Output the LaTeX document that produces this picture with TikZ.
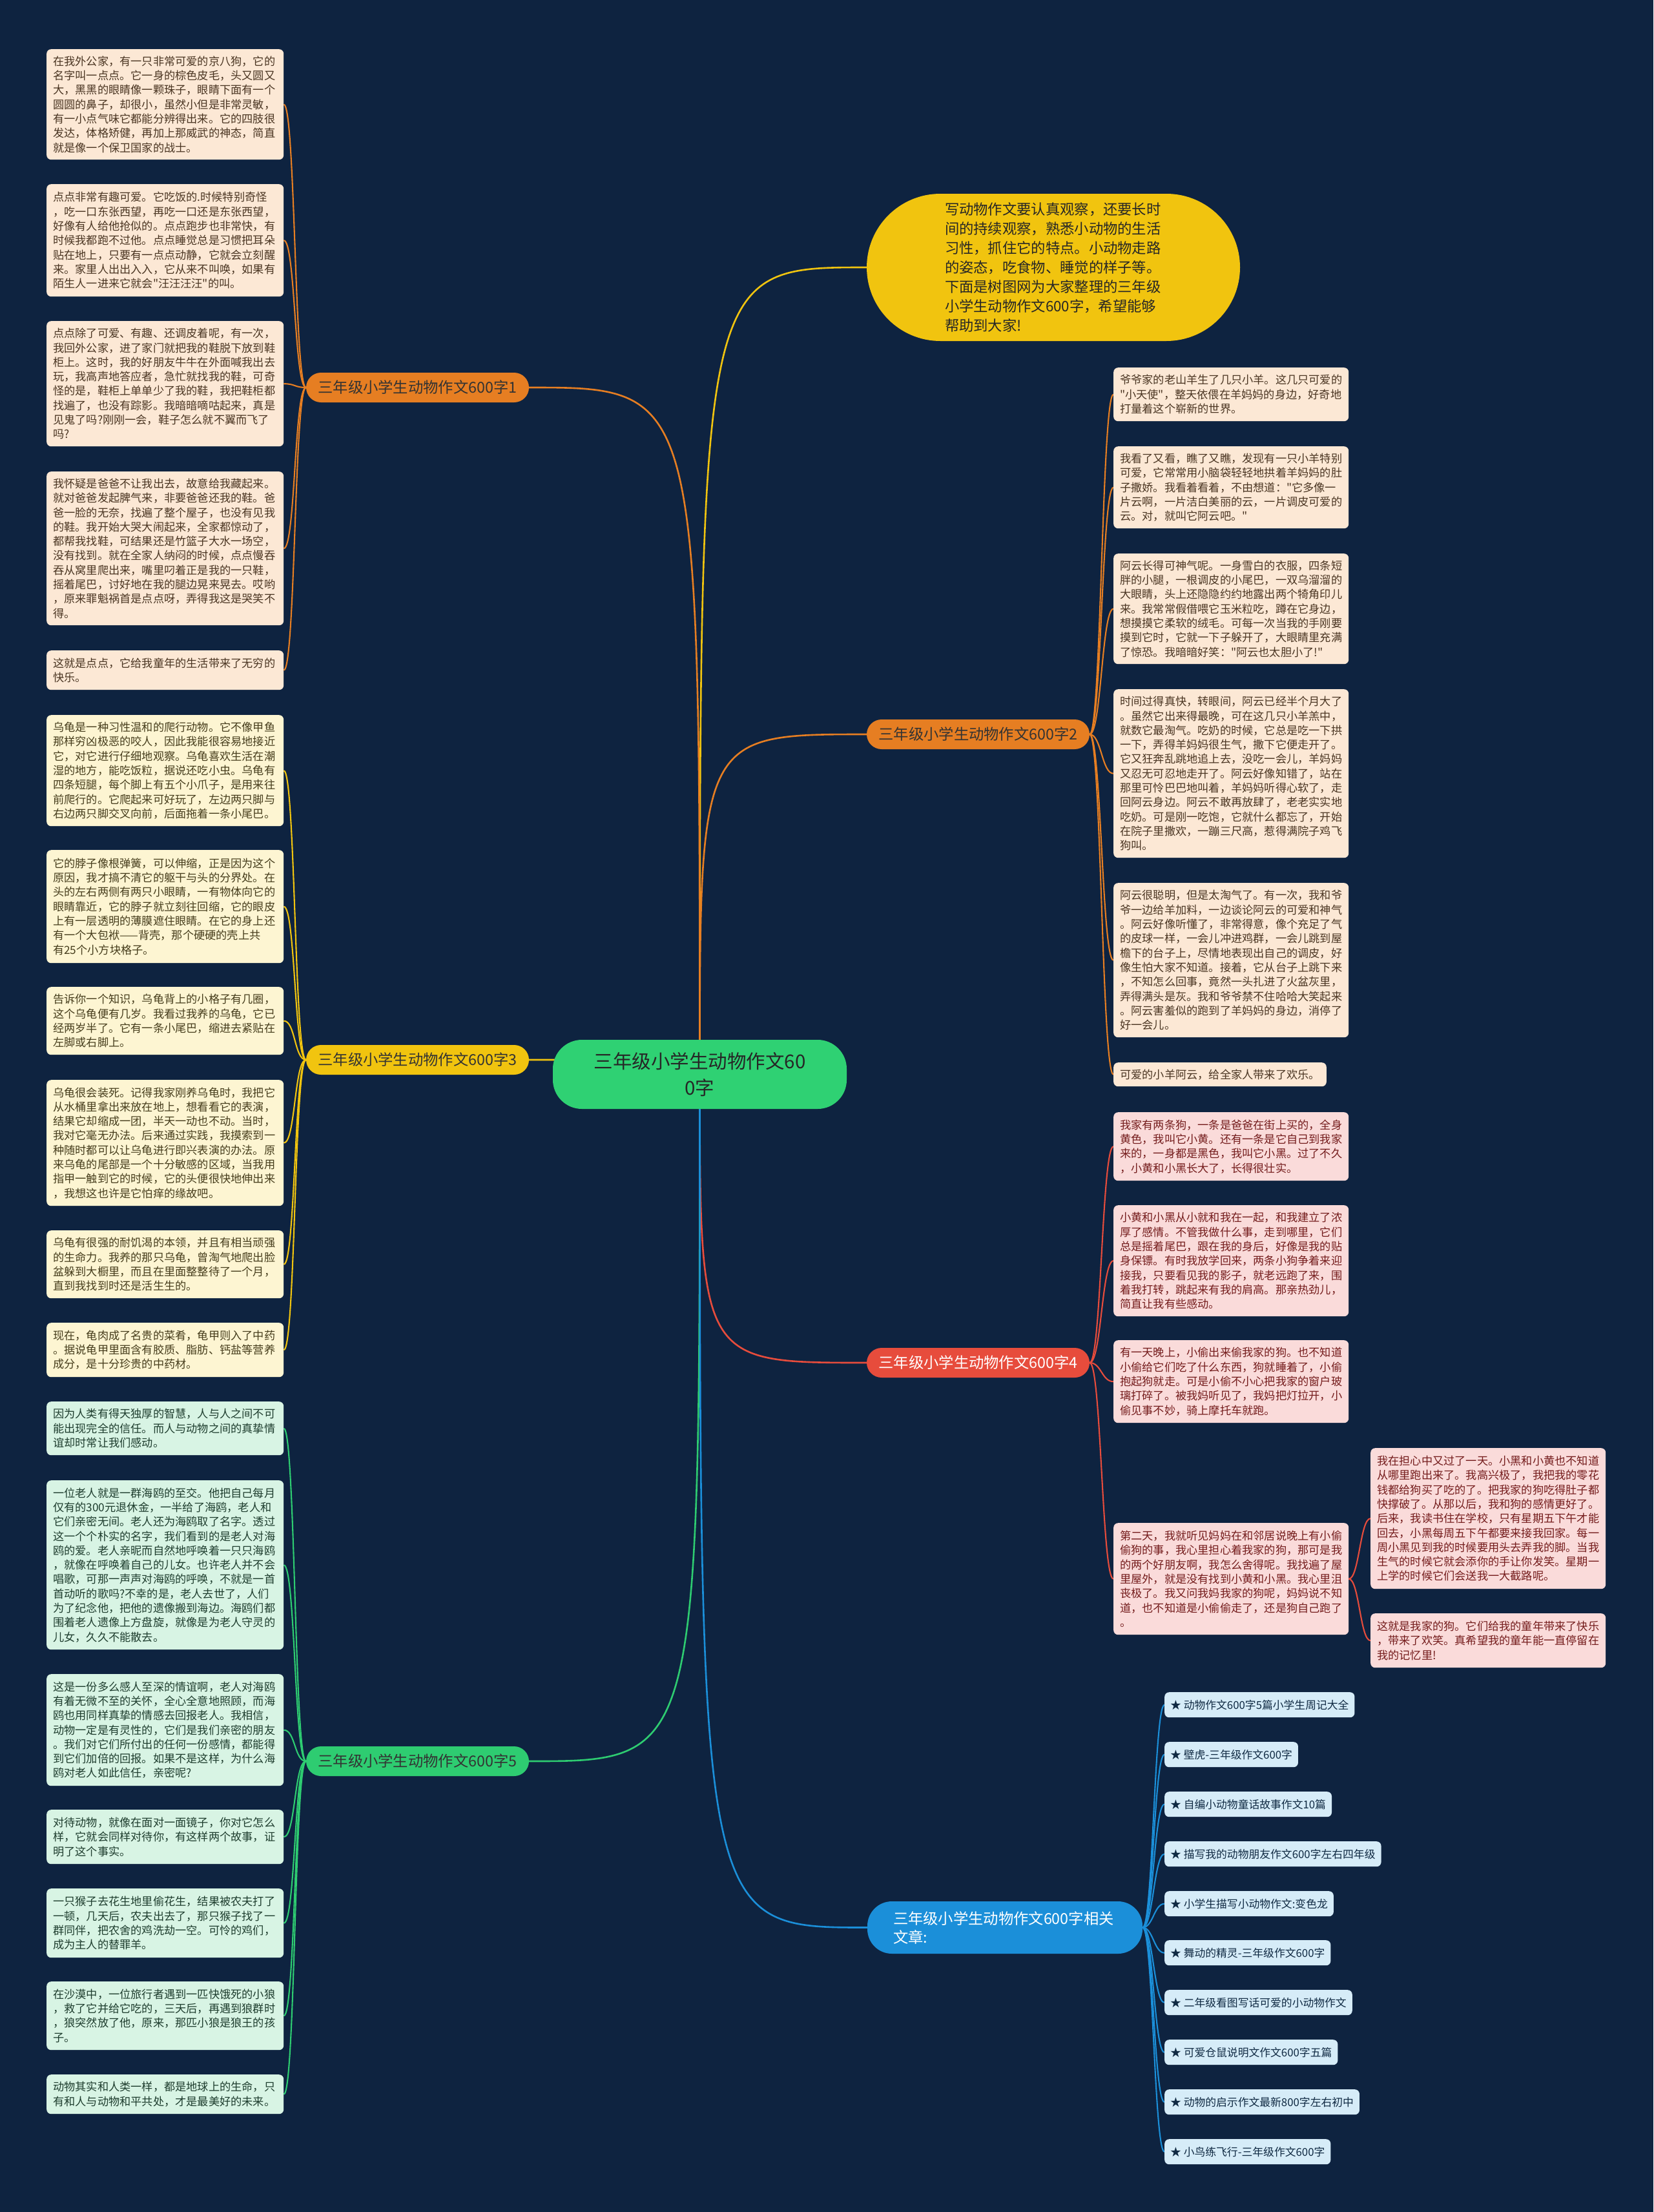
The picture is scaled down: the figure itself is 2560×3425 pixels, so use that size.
\documentclass[tikz,border=0pt]{standalone}
\usepackage{fontspec}
\newfontfamily\cjk{Noto Sans CJK SC}
\usetikzlibrary{calc}
\definecolor{bgc}{HTML}{0E2340}
\definecolor{corange}{HTML}{E67E22}
\definecolor{cyellow}{HTML}{F1C40F}
\definecolor{cred}{HTML}{E74C3C}
\definecolor{cgreen}{HTML}{2ECC71}
\definecolor{croot}{HTML}{2FD173}
\definecolor{cblue}{HTML}{1B8FD9}
\definecolor{fpeach}{HTML}{FCE8D5}
\definecolor{fyellow}{HTML}{FDF5D2}
\definecolor{fgreen}{HTML}{D8F4E4}
\definecolor{fpink}{HTML}{FADBDA}
\definecolor{fblue}{HTML}{D6ECF8}
\definecolor{tbrown}{HTML}{4A3522}
\definecolor{tolive}{HTML}{463D1C}
\definecolor{tgreen}{HTML}{1E3D2E}
\definecolor{tred}{HTML}{741C1C}
\definecolor{tnavy}{HTML}{102A43}
\pgfdeclarelayer{bglayer}
\pgfdeclarelayer{lines}
\pgfsetlayers{bglayer,lines,main}
\tikzset{
  base/.style={font=\cjk\fontsize{17.2}{22.3}\selectfont, align=left, rounded corners=7pt, anchor=north west, inner ysep=0pt, inner xsep=10pt},
  nL/.style={base, text width=347pt},
  nR/.style={base, text width=344pt},
  g1/.style={fill=fpeach, text=tbrown},
  g3/.style={fill=fyellow, text=tolive},
  g5/.style={fill=fgreen, text=tgreen},
  g4/.style={fill=fpink, text=tred},
  lnk/.style={base, fill=fblue, text=tnavy, font=\cjk\fontsize{16.8}{20}\selectfont, inner xsep=9pt, minimum height=39pt},
  pill/.style={font=\cjk\fontsize{23.3}{29}\selectfont, rounded corners=23pt, minimum width=345pt, minimum height=46pt, inner sep=0pt},
  mainln/.style={line width=2.6pt},
  subln/.style={line width=2.1pt}
}
\begin{document}
\begin{tikzpicture}[x=1pt,y=-1pt]
\useasboundingbox (0,0) rectangle (2560,3425);
\begin{pgfonlayer}{bglayer}
\fill[bgc] (0,0) rectangle (2560,3425);
\end{pgfonlayer}

% root and intro
\node[fill=croot, text=black!85, rounded corners=45pt, minimum width=455pt, minimum height=107pt, inner sep=0pt, align=center, font=\cjk\fontsize{29.5}{41}\selectfont] (root) at (1083.5,1663.5) {三年级小学生动物作文60\\0字};
\node[fill=cyellow, text=black!85, rounded corners=114pt, minimum width=578pt, minimum height=228pt, inner sep=0pt, text width=336pt, align=left, font=\cjk\fontsize{22.3}{30}\selectfont] (intro) at (1631,414) {写动物作文要认真观察，还要长时\\间的持续观察，熟悉小动物的生活\\习性，抓住它的特点。小动物走路\\的姿态，吃食物、睡觉的样子等。\\下面是树图网为大家整理的三年级\\小学生动物作文600字，希望能够\\帮助到大家!};

% branches
\node[pill, fill=corange, text=black!80] (b1) at (646.5,600) {三年级小学生动物作文600字1};
\node[pill, fill=corange, text=black!80] (b2) at (1514.5,1137) {三年级小学生动物作文600字2};
\node[pill, fill=cyellow, text=black!80] (b3) at (646.5,1641) {三年级小学生动物作文600字3};
\node[pill, fill=cred, text=white] (b4) at (1514.5,2110) {三年级小学生动物作文600字4};
\node[pill, fill=cgreen, text=black!80] (b5) at (646.5,2727) {三年级小学生动物作文600字5};
\node[pill, fill=cblue, text=white, minimum width=426pt, minimum height=81pt, rounded corners=38pt, text width=346pt, inner xsep=40pt, align=left] (b6) at (1556,2984.5) {三年级小学生动物作文600字相关\\文章:};

% group 1
\node[nL, g1, minimum height=171pt] (n1a) at (72,76) {在我外公家，有一只非常可爱的京八狗，它的\\名字叫一点点。它一身的棕色皮毛，头又圆又\\大，黑黑的眼睛像一颗珠子，眼睛下面有一个\\圆圆的鼻子，却很小，虽然小但是非常灵敏，\\有一小点气味它都能分辨得出来。它的四肢很\\发达，体格矫健，再加上那威武的神态，简直\\就是像一个保卫国家的战士。};
\node[nL, g1, minimum height=174pt] (n1b) at (72,285) {点点非常有趣可爱。它吃饭的.时候特别奇怪\\，吃一口东张西望，再吃一口还是东张西望，\\好像有人给他抢似的。点点跑步也非常快，有\\时候我都跑不过他。点点睡觉总是习惯把耳朵\\贴在地上，只要有一点点动静，它就会立刻醒\\来。家里人出出入入，它从来不叫唤，如果有\\陌生人一进来它就会"汪汪汪汪"的叫。};
\node[nL, g1, minimum height=194pt] (n1c) at (72,497) {点点除了可爱、有趣、还调皮着呢，有一次，\\我回外公家，进了家门就把我的鞋脱下放到鞋\\柜上。这时，我的好朋友牛牛在外面喊我出去\\玩，我高声地答应者，急忙就找我的鞋，可奇\\怪的是，鞋柜上单单少了我的鞋，我把鞋柜都\\找遍了，也没有踪影。我暗暗嘀咕起来，真是\\见鬼了吗?刚刚一会，鞋子怎么就不翼而飞了\\吗?};
\node[nL, g1, minimum height=238pt] (n1d) at (72,730) {我怀疑是爸爸不让我出去，故意给我藏起来。\\就对爸爸发起脾气来，非要爸爸还我的鞋。爸\\爸一脸的无奈，找遍了整个屋子，也没有见我\\的鞋。我开始大哭大闹起来，全家都惊动了，\\都帮我找鞋，可结果还是竹篮子大水一场空，\\没有找到。就在全家人纳闷的时候，点点慢吞\\吞从窝里爬出来，嘴里叼着正是我的一只鞋，\\摇着尾巴，讨好地在我的腿边晃来晃去。哎哟\\，原来罪魁祸首是点点呀，弄得我这是哭笑不\\得。};
\node[nL, g1, minimum height=61pt] (n1e) at (72,1007) {这就是点点，它给我童年的生活带来了无穷的\\快乐。};

% group 3
\node[nL, g3, minimum height=172pt] (n3a) at (72,1107) {乌龟是一种习性温和的爬行动物。它不像甲鱼\\那样穷凶极恶的咬人，因此我能很容易地接近\\它，对它进行仔细地观察。乌龟喜欢生活在潮\\湿的地方，能吃饭粒，据说还吃小虫。乌龟有\\四条短腿，每个脚上有五个小爪子，是用来往\\前爬行的。它爬起来可好玩了，左边两只脚与\\右边两只脚交叉向前，后面拖着一条小尾巴。};
\node[nL, g3, minimum height=175pt] (n3b) at (72,1316) {它的脖子像根弹簧，可以伸缩，正是因为这个\\原因，我才搞不清它的躯干与头的分界处。在\\头的左右两侧有两只小眼睛，一有物体向它的\\眼睛靠近，它的脖子就立刻往回缩，它的眼皮\\上有一层透明的薄膜遮住眼睛。在它的身上还\\有一个大包袱——背壳，那个硬硬的壳上共\\有25个小方块格子。};
\node[nL, g3, minimum height=105pt] (n3c) at (72,1528) {告诉你一个知识，乌龟背上的小格子有几圈，\\这个乌龟便有几岁。我看过我养的乌龟，它已\\经两岁半了。它有一条小尾巴，缩进去紧贴在\\左脚或右脚上。};
\node[nL, g3, minimum height=195pt] (n3d) at (72,1672) {乌龟很会装死。记得我家刚养乌龟时，我把它\\从水桶里拿出来放在地上，想看看它的表演，\\结果它却缩成一团，半天一动也不动。当时，\\我对它毫无办法。后来通过实践，我摸索到一\\种随时都可以让乌龟进行即兴表演的办法。原\\来乌龟的尾部是一个十分敏感的区域，当我用\\指甲一触到它的时候，它的头便很快地伸出来\\，我想这也许是它怕痒的缘故吧。};
\node[nL, g3, minimum height=105pt] (n3e) at (72,1905) {乌龟有很强的耐饥渴的本领，并且有相当顽强\\的生命力。我养的那只乌龟，曾淘气地爬出脸\\盆躲到大橱里，而且在里面整整待了一个月，\\直到我找到时还是活生生的。};
\node[nL, g3, minimum height=84pt] (n3f) at (72,2048) {现在，龟肉成了名贵的菜肴，龟甲则入了中药\\。据说龟甲里面含有胶质、脂肪、钙盐等营养\\成分，是十分珍贵的中药材。};

% group 5
\node[nL, g5, minimum height=83pt] (n5a) at (72,2170) {因为人类有得天独厚的智慧，人与人之间不可\\能出现完全的信任。而人与动物之间的真挚情\\谊却时常让我们感动。};
\node[nL, g5, minimum height=262pt] (n5b) at (72,2292) {一位老人就是一群海鸥的至交。他把自己每月\\仅有的300元退休金，一半给了海鸥，老人和\\它们亲密无间。老人还为海鸥取了名字。透过\\这一个个朴实的名字，我们看到的是老人对海\\鸥的爱。老人亲昵而自然地呼唤着一只只海鸥\\，就像在呼唤着自己的儿女。也许老人并不会\\唱歌，可那一声声对海鸥的呼唤，不就是一首\\首动听的歌吗?不幸的是，老人去世了，人们\\为了纪念他，把他的遗像搬到海边。海鸥们都\\围着老人遗像上方盘旋，就像是为老人守灵的\\儿女，久久不能散去。};
\node[nL, g5, minimum height=173pt] (n5c) at (72,2592) {这是一份多么感人至深的情谊啊，老人对海鸥\\有着无微不至的关怀，全心全意地照顾，而海\\鸥也用同样真挚的情感去回报老人。我相信，\\动物一定是有灵性的，它们是我们亲密的朋友\\。我们对它们所付出的任何一份感情，都能得\\到它们加倍的回报。如果不是这样，为什么海\\鸥对老人如此信任，亲密呢?};
\node[nL, g5, minimum height=84pt] (n5d) at (72,2802) {对待动物，就像在面对一面镜子，你对它怎么\\样，它就会同样对待你，有这样两个故事，证\\明了这个事实。};
\node[nL, g5, minimum height=107pt] (n5e) at (72,2924) {一只猴子去花生地里偷花生，结果被农夫打了\\一顿，几天后，农夫出去了，那只猴子找了一\\群同伴，把农舍的鸡洗劫一空。可怜的鸡们，\\成为主人的替罪羊。};
\node[nL, g5, minimum height=106pt] (n5f) at (72,3068) {在沙漠中，一位旅行者遇到一匹快饿死的小狼\\，救了它并给它吃的，三天后，再遇到狼群时\\，狼突然放了他，原来，那匹小狼是狼王的孩\\子。};
\node[nL, g5, minimum height=61pt] (n5g) at (72,3212) {动物其实和人类一样，都是地球上的生命，只\\有和人与动物和平共处，才是最美好的未来。};

% group 2
\node[nR, g1, minimum height=83pt] (n2a) at (1724,569) {爷爷家的老山羊生了几只小羊。这几只可爱的\\"小天使"，整天依偎在羊妈妈的身边，好奇地\\打量着这个崭新的世界。};
\node[nR, g1, minimum height=127pt] (n2b) at (1724,691) {我看了又看，瞧了又瞧，发现有一只小羊特别\\可爱，它常常用小脑袋轻轻地拱着羊妈妈的肚\\子撒娇。我看着看着，不由想道："它多像一\\片云啊，一片洁白美丽的云，一片调皮可爱的\\云。对，就叫它阿云吧。"};
\node[nR, g1, minimum height=171pt] (n2c) at (1724,857) {阿云长得可神气呢。一身雪白的衣服，四条短\\胖的小腿，一根调皮的小尾巴，一双乌溜溜的\\大眼睛，头上还隐隐约约地露出两个犄角印儿\\来。我常常假借喂它玉米粒吃，蹲在它身边，\\想摸摸它柔软的绒毛。可每一次当我的手刚要\\摸到它时，它就一下子躲开了，大眼睛里充满\\了惊恐。我暗暗好笑："阿云也太胆小了!"};
\node[nR, g1, minimum height=261pt] (n2d) at (1724,1067) {时间过得真快，转眼间，阿云已经半个月大了\\。虽然它出来得最晚，可在这几只小羊羔中，\\就数它最淘气。吃奶的时候，它总是吃一下拱\\一下，弄得羊妈妈很生气，撒下它便走开了。\\它又狂奔乱跳地追上去，没吃一会儿，羊妈妈\\又忍无可忍地走开了。阿云好像知错了，站在\\那里可怜巴巴地叫着，羊妈妈听得心软了，走\\回阿云身边。阿云不敢再放肆了，老老实实地\\吃奶。可是刚一吃饱，它就什么都忘了，开始\\在院子里撒欢，一蹦三尺高，惹得满院子鸡飞\\狗叫。};
\node[nR, g1, minimum height=239pt] (n2e) at (1724,1367) {阿云很聪明，但是太淘气了。有一次，我和爷\\爷一边给羊加料，一边谈论阿云的可爱和神气\\。阿云好像听懂了，非常得意，像个充足了气\\的皮球一样，一会儿冲进鸡群，一会儿跳到屋\\檐下的台子上，尽情地表现出自己的调皮，好\\像生怕大家不知道。接着，它从台子上跳下来\\，不知怎么回事，竟然一头扎进了火盆灰里，\\弄得满头是灰。我和爷爷禁不住哈哈大笑起来\\。阿云害羞似的跑到了羊妈妈的身边，消停了\\好一会儿。};
\node[base, g1, minimum height=37pt] (n2f) at (1724,1645) {可爱的小羊阿云，给全家人带来了欢乐。};

% group 4
\node[nR, g4, minimum height=106pt] (n4a) at (1724,1722) {我家有两条狗，一条是爸爸在街上买的，全身\\黄色，我叫它小黄。还有一条是它自己到我家\\来的，一身都是黑色，我叫它小黑。过了不久\\，小黄和小黑长大了，长得很壮实。};
\node[nR, g4, minimum height=172pt] (n4b) at (1724,1866) {小黄和小黑从小就和我在一起，和我建立了浓\\厚了感情。不管我做什么事，走到哪里，它们\\总是摇着尾巴，跟在我的身后，好像是我的贴\\身保镖。有时我放学回来，两条小狗争着来迎\\接我，只要看见我的影子，就老远跑了来，围\\着我打转，跳起来有我的肩高。那亲热劲儿，\\简直让我有些感动。};
\node[nR, g4, minimum height=128pt] (n4c) at (1724,2075) {有一天晚上，小偷出来偷我家的狗。也不知道\\小偷给它们吃了什么东西，狗就睡着了，小偷\\抱起狗就走。可是小偷不小心把我家的窗户玻\\璃打碎了。被我妈听见了，我妈把灯拉开，小\\偷见事不妙，骑上摩托车就跑。};
\node[nR, g4, minimum height=173pt] (n4d) at (1724,2358) {第二天，我就听见妈妈在和邻居说晚上有小偷\\偷狗的事，我心里担心着我家的狗，那可是我\\的两个好朋友啊，我怎么舍得呢。我找遍了屋\\里屋外，就是没有找到小黄和小黑。我心里沮\\丧极了。我又问我妈我家的狗呢，妈妈说不知\\道，也不知道是小偷偷走了，还是狗自己跑了\\。};
\node[nR, g4, minimum height=218pt] (n4e) at (2122,2242) {我在担心中又过了一天。小黑和小黄也不知道\\从哪里跑出来了。我高兴极了，我把我的零花\\钱都给狗买了吃的了。把我家的狗吃得肚子都\\快撑破了。从那以后，我和狗的感情更好了。\\后来，我读书住在学校，只有星期五下午才能\\回去，小黑每周五下午都要来接我回家。每一\\周小黑见到我的时候要用头去弄我的脚。当我\\生气的时候它就会添你的手让你发笑。星期一\\上学的时候它们会送我一大截路呢。};
\node[nR, g4, minimum height=84pt] (n4f) at (2122,2498) {这就是我家的狗。它们给我的童年带来了快乐\\，带来了欢笑。真希望我的童年能一直停留在\\我的记忆里!};

% group 6 links
\node[lnk] (l1) at (1803,2620) {★ 动物作文600字5篇小学生周记大全};
\node[lnk] (l2) at (1803,2697) {★ 壁虎-三年级作文600字};
\node[lnk] (l3) at (1803,2774) {★ 自编小动物童话故事作文10篇};
\node[lnk] (l4) at (1803,2851) {★ 描写我的动物朋友作文600字左右四年级};
\node[lnk] (l5) at (1803,2928) {★ 小学生描写小动物作文:变色龙};
\node[lnk] (l6) at (1803,3004) {★ 舞动的精灵-三年级作文600字};
\node[lnk] (l7) at (1803,3081) {★ 二年级看图写话可爱的小动物作文};
\node[lnk] (l8) at (1803,3158) {★ 可爱仓鼠说明文作文600字五篇};
\node[lnk] (l9) at (1803,3235) {★ 动物的启示作文最新800字左右初中};
\node[lnk] (l10) at (1803,3312) {★ 小鸟练飞行-三年级作文600字};

\begin{pgfonlayer}{lines}
% main connectors
\draw[mainln, cyellow] (root.center) .. controls (root.center |- intro.west) .. (intro.west);
\draw[mainln, corange] (root.center) .. controls (root.center |- b1.east) .. (b1.east);
\draw[mainln, corange] (root.center) .. controls (root.center |- b2.west) .. (b2.west);
\draw[mainln, cyellow] (root.center) .. controls (root.center |- b3.east) .. (b3.east);
\draw[mainln, cred] (root.center) .. controls (root.center |- b4.west) .. (b4.west);
\draw[mainln, cgreen] (root.center) .. controls (root.center |- b5.east) .. (b5.east);
\draw[mainln, cblue] (root.center) .. controls (root.center |- b6.west) .. (b6.west);
% left sub connectors
\foreach \n in {n1a,n1b,n1c,n1d,n1e}
  \draw[subln, corange] (b1.west) .. controls +(-18,0) and +(18,0) .. (\n.east);
\foreach \n in {n3a,n3b,n3c,n3d,n3e,n3f}
  \draw[subln, cyellow] (b3.west) .. controls +(-18,0) and +(18,0) .. (\n.east);
\foreach \n in {n5a,n5b,n5c,n5d,n5e,n5f,n5g}
  \draw[subln, cgreen] (b5.west) .. controls +(-18,0) and +(18,0) .. (\n.east);
% right sub connectors
\foreach \n in {n2a,n2b,n2c,n2d,n2e,n2f}
  \draw[subln, corange] (b2.east) .. controls +(18,0) and +(-18,0) .. (\n.west);
\foreach \n in {n4a,n4b,n4c,n4d}
  \draw[subln, cred] (b4.east) .. controls +(18,0) and +(-18,0) .. (\n.west);
\foreach \n in {n4e,n4f}
  \draw[subln, cred] (n4d.east) .. controls +(16,0) and +(-16,0) .. (\n.west);
\foreach \n in {l1,l2,l3,l4,l5,l6,l7,l8,l9,l10}
  \draw[subln, cblue] (b6.east) .. controls +(16,0) and +(-16,0) .. (\n.west);
\end{pgfonlayer}
\end{tikzpicture}
\end{document}
